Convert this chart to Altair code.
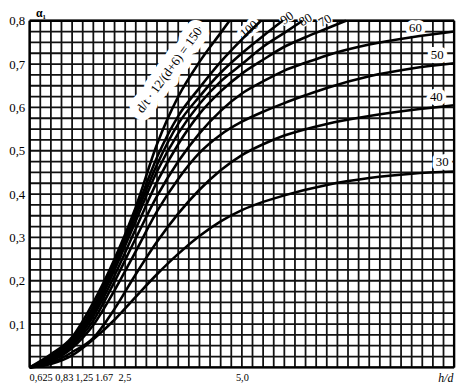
import altair as alt
import pandas as pd

# ---- curves: h/d -> alpha_1, one per parameter value ----
curve_names = ["150", "100", "90", "80", "70", "60", "50", "40", "30"]

h_150 = [0, 0.5, 1, 1.5, 2, 2.5, 3, 3.5, 4, 4.5, 4.71]
a_150 = [0, 0.03, 0.07, 0.15, 0.25, 0.37, 0.515, 0.625, 0.705, 0.772, 0.8]

h_100 = [0, 0.5, 1, 1.5, 2, 2.5, 3, 3.5, 4, 4.5, 5, 5.45]
a_100 = [0, 0.025, 0.065, 0.14, 0.245, 0.36, 0.485, 0.58, 0.645, 0.705, 0.757, 0.8]

h_90 = [0, 0.5, 1, 1.5, 2, 2.5, 3, 3.5, 4, 4.5, 5, 5.5, 5.96]
a_90 = [0, 0.022, 0.06, 0.132, 0.235, 0.35, 0.468, 0.562, 0.625, 0.68, 0.725, 0.765, 0.8]

h_80 = [0, 0.5, 1, 1.5, 2, 2.5, 3, 3.5, 4, 4.5, 5, 5.5, 6, 6.43]
a_80 = [0, 0.02, 0.057, 0.125, 0.225, 0.338, 0.452, 0.54, 0.608, 0.66, 0.70, 0.74, 0.772, 0.8]

h_70 = [0, 0.5, 1, 1.5, 2, 2.5, 3, 3.5, 4, 4.5, 5, 5.5, 6, 6.5, 7, 7.45]
a_70 = [0, 0.018, 0.053, 0.118, 0.212, 0.32, 0.428, 0.515, 0.585, 0.637, 0.678, 0.71, 0.74, 0.762, 0.782, 0.8]

h_60 = [0, 0.5, 1, 1.5, 2, 2.5, 3, 3.5, 4, 4.5, 5, 5.5, 6, 6.5, 7, 8, 9, 10]
a_60 = [0, 0.016, 0.05, 0.108, 0.198, 0.298, 0.395, 0.475, 0.54, 0.592, 0.632, 0.66, 0.685, 0.703, 0.72, 0.745, 0.762, 0.775]

h_50 = [0, 0.5, 1, 1.5, 2, 2.5, 3, 3.5, 4, 4.5, 5, 5.5, 6, 6.5, 7, 8, 9, 10]
a_50 = [0, 0.014, 0.045, 0.098, 0.178, 0.268, 0.36, 0.435, 0.495, 0.537, 0.567, 0.59, 0.61, 0.628, 0.645, 0.672, 0.69, 0.702]

h_40 = [0, 0.5, 1, 1.5, 2, 2.5, 3, 3.5, 4, 4.5, 5, 5.5, 6, 7, 8, 9, 10]
a_40 = [0, 0.01, 0.035, 0.068, 0.135, 0.215, 0.29, 0.355, 0.41, 0.455, 0.49, 0.515, 0.535, 0.562, 0.58, 0.594, 0.605]

h_30 = [0, 0.5, 1, 1.5, 2, 2.5, 3, 3.5, 4, 4.5, 5, 5.5, 6, 7, 8, 9, 10]
a_30 = [0, 0.008, 0.028, 0.065, 0.11, 0.163, 0.215, 0.262, 0.303, 0.337, 0.363, 0.382, 0.397, 0.421, 0.437, 0.447, 0.452]

curve_h = [h_150, h_100, h_90, h_80, h_70, h_60, h_50, h_40, h_30]
curve_a = [a_150, a_100, a_90, a_80, a_70, a_60, a_50, a_40, a_30]

# ---- curve labels ----
label_text = ["d/t · 12/(d+6) = 150", "100", "90", "80", "70", "60", "50", "40", "30"]
label_h = [3.29, 5.17, 6.06, 6.5, 6.96, 9.09, 9.6, 9.58, 9.72]
label_a = [0.686, 0.78, 0.806, 0.802, 0.8, 0.784, 0.72, 0.625, 0.475]
label_angle = [306, 320, 325, 330, 330, 0, 0, 0, 0]
label_halo = [16, 7, 3, 3, 3, 8, 8, 8, 8]

# ---- axis ticks ----
x_ticks = [0.625, 0.83, 1.25, 1.67, 2.5, 5.0]
x_tick_text = ["0,625", "0,83", "1,25", "1.67", "2,5", "5,0"]
y_ticks = [0.1, 0.2, 0.3, 0.4, 0.5, 0.6, 0.7, 0.8]
y_tick_text = ["0,1", "0,2", "0,3", "0,4", "0,5", "0,6", "0,7", "0,8"]

# grid every 0.25 in h/d and every 0.025 in alpha
grid_x = [i * 0.25 for i in range(41)]
grid_y = [round(i * 0.025, 4) for i in range(33)]

rows = []
for name, hs, avs in zip(curve_names, curve_h, curve_a):
    for i, (h, a) in enumerate(zip(hs, avs)):
        rows.append({"curve": name, "h": h, "a": a, "order": i})
df = pd.DataFrame(rows)

labels_df = pd.DataFrame({"text": label_text, "h": label_h, "a": label_a,
                          "angle": label_angle, "halo": label_halo})


def label_expr(vals, texts):
    expr = "''"
    for v, t in reversed(list(zip(vals, texts))):
        expr = f"abs(datum.value - {v}) < 0.000001 ? '{t}' : {expr}"
    return expr


FONT = "Liberation Serif"
xscale = alt.Scale(domain=[0, 10], nice=False, zero=False)
yscale = alt.Scale(domain=[0, 0.8], nice=False, zero=False)

x_axis = alt.Axis(
    values=x_ticks, labelExpr=label_expr(x_ticks, x_tick_text),
    grid=False, ticks=False, domain=False, labelPadding=5,
    labelFont=FONT, labelFontSize=10.5, labelColor="black",
    labelOverlap=False, labelFlush=False,
    labelAlign={"condition": {"test": "datum.value == 0.625 || datum.value == 2.5",
                              "value": "right"}, "value": "center"},
    labelOffset={"condition": [
        {"test": "datum.value == 0.625", "value": -4},
        {"test": "datum.value == 0.83", "value": -1},
        {"test": "datum.value == 1.25", "value": 1},
        {"test": "datum.value == 2.5", "value": -5},
        {"test": "datum.value == 1.67", "value": 3}], "value": 0},
    title="h/d", titleFont=FONT, titleFontSize=12, titleFontStyle="italic",
    titleFontWeight="normal", titleColor="black",
    titleX=422, titleY=14, titleAlign="center", titleBaseline="alphabetic")

y_axis = alt.Axis(
    values=y_ticks, labelExpr=label_expr(y_ticks, y_tick_text),
    grid=False, ticks=False, domain=False, labelPadding=5,
    labelFont=FONT, labelFontSize=13, labelColor="black",
    labelOverlap=False,
    title="α₁", titleFont=FONT, titleFontSize=12, titleFontWeight="bold",
    titleColor="black", titleAngle=0, titleX=11, titleY=-4,
    titleAlign="center", titleBaseline="alphabetic")

gv = alt.Chart(pd.DataFrame({"gx": grid_x})).mark_rule(
    color="#111", strokeWidth=1.8
).encode(x=alt.X("gx:Q", scale=xscale, axis=x_axis))

gh = alt.Chart(pd.DataFrame({"gy": grid_y})).mark_rule(
    color="#111", strokeWidth=1.8
).encode(y=alt.Y("gy:Q", scale=yscale, axis=y_axis))

frame_v = alt.Chart(pd.DataFrame({"gx": [0, 10]})).mark_rule(
    color="black", strokeWidth=2.4
).encode(x=alt.X("gx:Q", scale=xscale, axis=x_axis))
frame_h = alt.Chart(pd.DataFrame({"gy": [0, 0.8]})).mark_rule(
    color="black", strokeWidth=2.4
).encode(y=alt.Y("gy:Q", scale=yscale, axis=y_axis))

halo = alt.Chart(labels_df).mark_text(
    font=FONT, fontSize=13, color="white", stroke="white", strokeJoin="round"
).encode(
    x=alt.X("h:Q", scale=xscale, axis=x_axis),
    y=alt.Y("a:Q", scale=yscale, axis=y_axis),
    text="text:N",
    angle=alt.Angle("angle:Q", scale=None),
    strokeWidth=alt.StrokeWidth("halo:Q", scale=None),
)

lines = alt.Chart(df).mark_line(
    color="black", strokeWidth=2.6, interpolate="monotone"
).encode(
    x=alt.X("h:Q", scale=xscale, axis=x_axis),
    y=alt.Y("a:Q", scale=yscale, axis=y_axis),
    detail="curve:N",
    order="order:Q",
)

text = alt.Chart(labels_df).mark_text(
    font=FONT, fontSize=13, color="black"
).encode(
    x=alt.X("h:Q", scale=xscale, axis=x_axis),
    y=alt.Y("a:Q", scale=yscale, axis=y_axis),
    text="text:N",
    angle=alt.Angle("angle:Q", scale=None),
)

chart = alt.layer(gv, gh, frame_v, frame_h, halo, lines, text).properties(
    width=431, height=352,
    autosize=alt.AutoSizeParams(type="none"),
    padding={"left": 22, "top": 10, "right": 8, "bottom": 20},
    background="white",
).configure_view(stroke=None)

chart.save("out.html", embed_options={"renderer": "svg", "actions": False})
